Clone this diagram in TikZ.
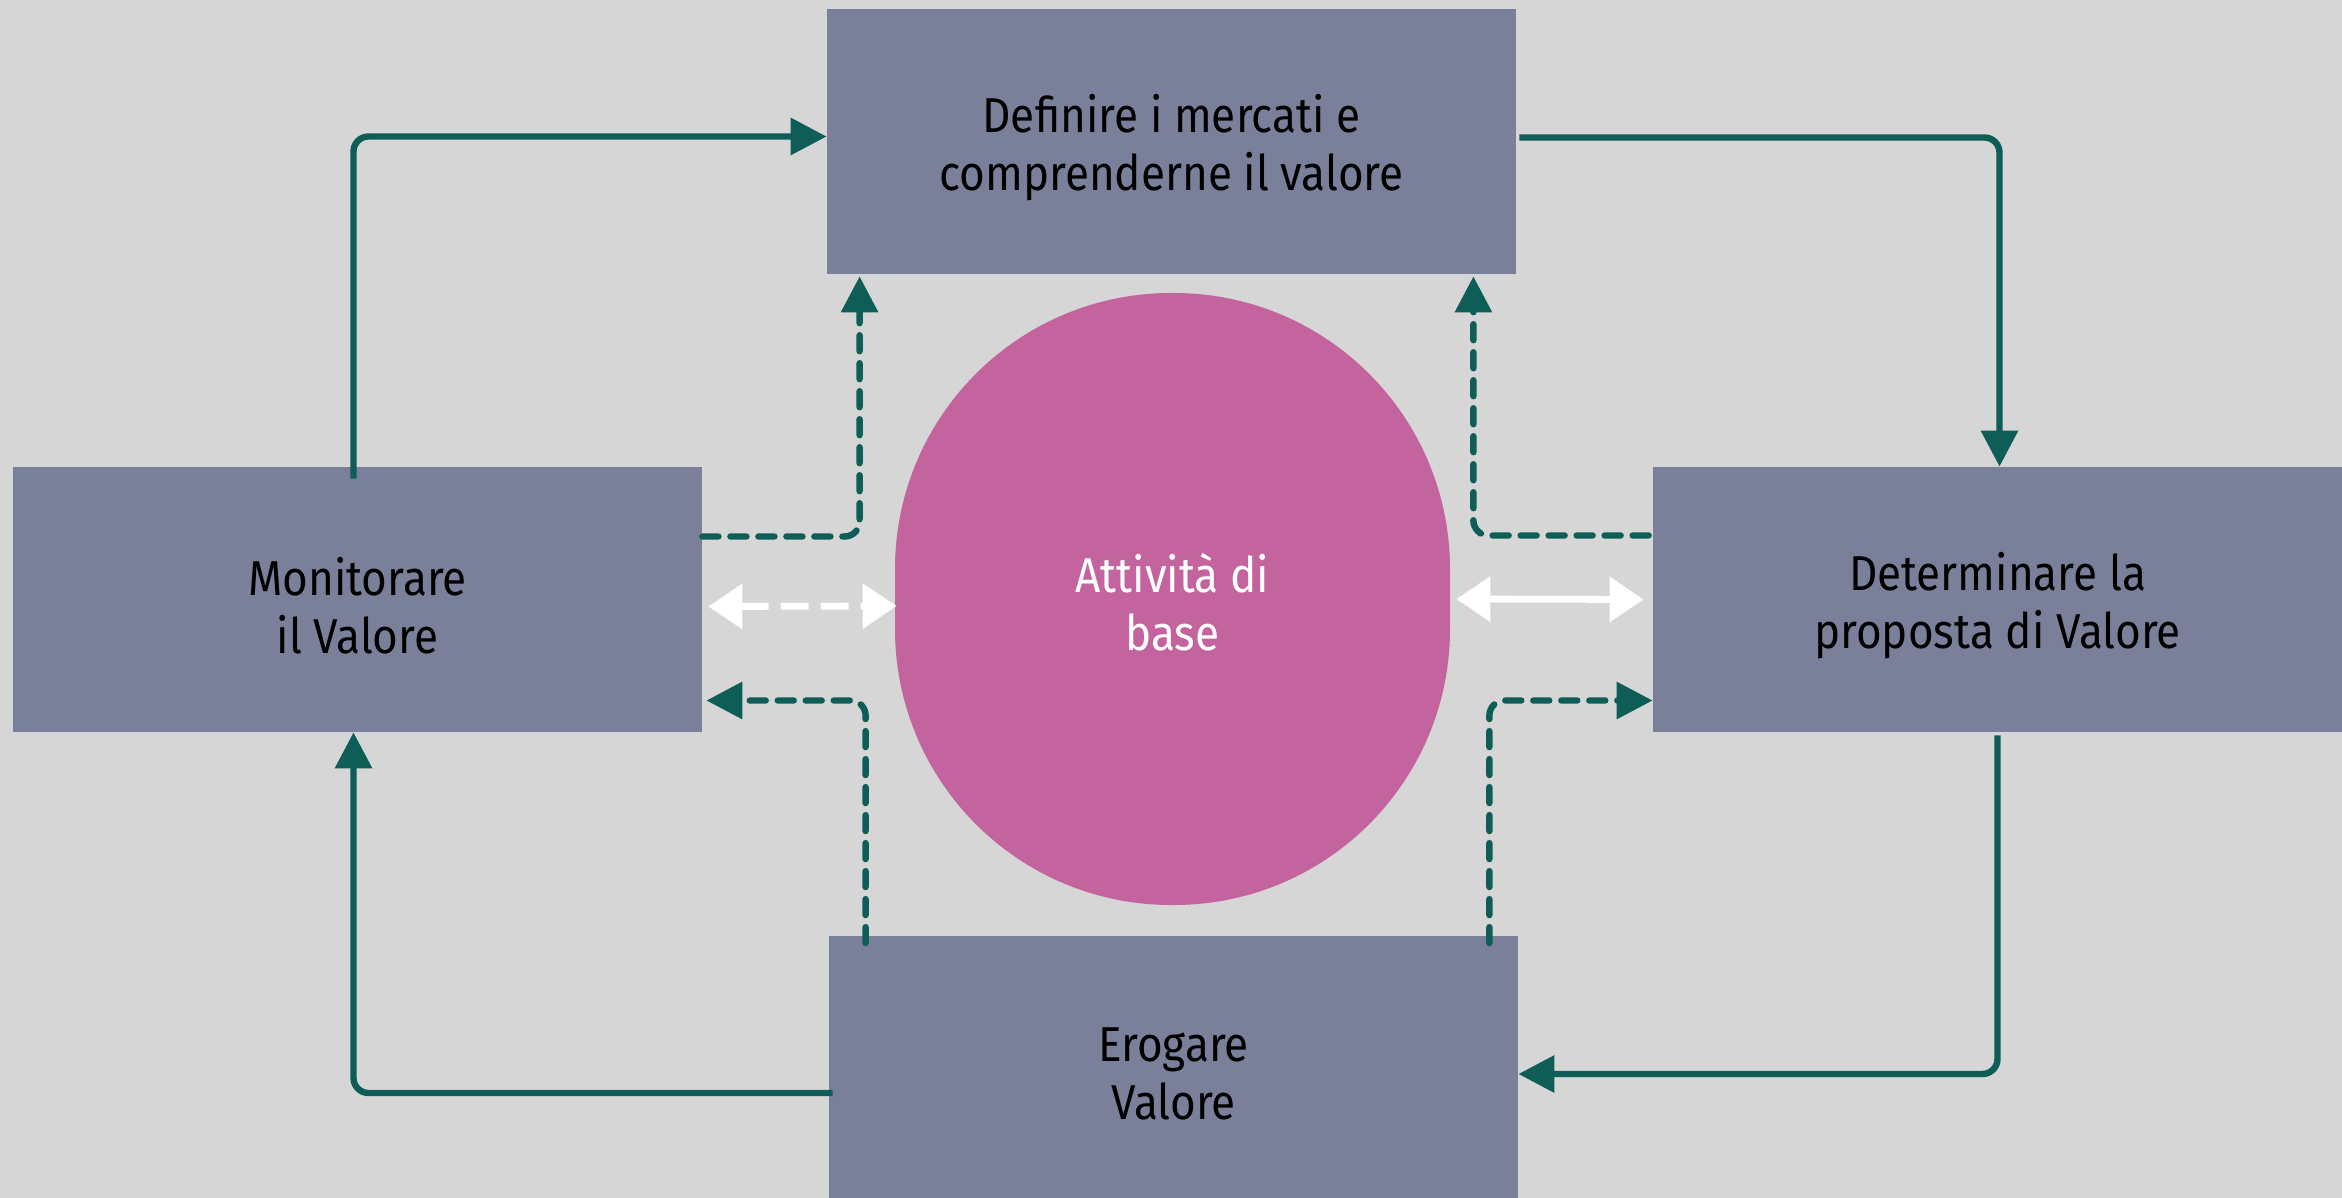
\documentclass[tikz,border=0pt]{standalone}
\usepackage{fontspec}
\setmainfont{Fira Sans}[FakeStretch=0.9]
\usetikzlibrary{arrows.meta,calc}
\definecolor{bg}{HTML}{D6D6D6}
\definecolor{boxc}{HTML}{7A8099}
\definecolor{circc}{HTML}{C4649E}
\definecolor{teal}{HTML}{0E5E57}
\tikzset{
  stepbox/.style={fill=boxc, draw=none, minimum width=344.5pt, minimum height=132.5pt, inner sep=0pt},
  lbl/.style={align=center, font=\fontsize{24.5}{29}\selectfont, text=black, inner sep=0pt},
  flow/.style={draw=teal, line width=3.2pt, rounded corners=7.5pt,
    -{Triangle[length=18pt,width=18pt]}},
  dflow/.style={flow, dash pattern=on 8pt off 6pt, line cap=round},
  wflow/.style={draw=white, line width=3.4pt,
    {Triangle[length=17pt,width=22pt]}-{Triangle[length=17pt,width=22pt]}},
}
\begin{document}
\begin{tikzpicture}[x=0.5pt,y=-0.5pt]
\fill[bg] (0,0) rectangle (2342,1198);
\useasboundingbox (0,0) rectangle (2342,1198);
\node[stepbox] (top) at (1171.5,141.5) {};
\node[stepbox] (left) at (357.5,599.5) {};
\node[stepbox] (right) at (1997.5,599.5) {};
\node[stepbox] (bottom) at (1173.5,1068) {};
\node[fill=circc, draw=none, minimum width=277.5pt, minimum height=306pt,
  rounded corners=138pt, inner sep=0pt] (circ) at (1172.5,599) {};
\node[lbl] (topT) at ($(top)+(0,6)$) {Definire i mercati e\\comprenderne il valore};
\node[lbl] (leftT) at ($(left)+(0,6)$) {Monitorare\\il Valore};
\node[lbl] (rightT) at ($(right)+(0,6)$) {Determinare la\\proposta di Valore};
\node[lbl] (bottomT) at ($(bottom)+(0,6)$) {Erogare\\Valore};
\node[lbl, text=white] (circT) at ($(circ)+(0,3)$) {Attività di\\base};
% solid cycle
\draw[flow] ($(left.north)+(-4,12)$) |- ($(top.west)+(0,-5)$);
\draw[flow] ($(top.east)+(3,-4)$) -| ($(right.north)+(2,0)$);
\draw[flow] ($(right.south)+(0,3)$) |- ($(bottom.east)+(0,6)$);
\draw[flow] ($(bottom.west)+(4,25)$) -| ($(left.south)+(-4,0)$);
% dashed
\draw[dflow] ($(left.east)+(0,-63)$) -| ($(top.south west)+(33,2)$);
\draw[dflow] ($(right.west)+(-4,-64)$) -| ($(top.south east)+(-43,2)$);
\draw[dflow] ($(bottom.north west)+(37,8)$) |- ($(left.east)+(4,101)$);
\draw[dflow] ($(bottom.north east)+(-29,8)$) |- ($(right.west)+(0,101)$);
% white
\draw[wflow, dash pattern=on 14pt off 6pt] ($(left.east)+(6,7)$) -- ($(circ.west)+(2,7)$);
\draw[wflow] ($(circ.east)+(6,0)$) -- ($(right.west)+(-9,0)$);
\end{tikzpicture}
\end{document}
